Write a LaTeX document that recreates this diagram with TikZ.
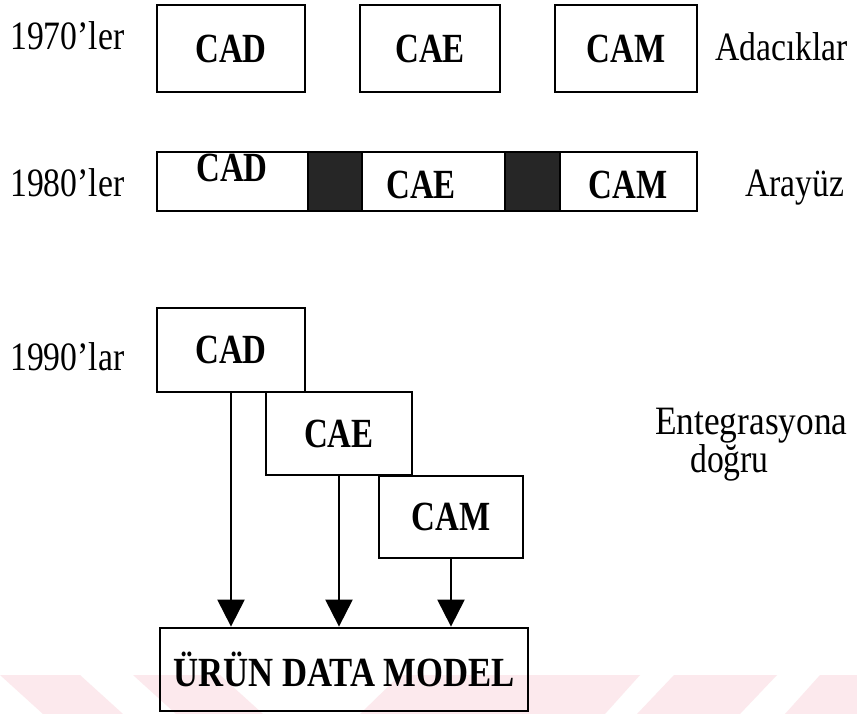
\documentclass[tikz,border=0pt]{standalone}
\usepackage{fontspec}
\usepackage{graphicx}
\setmainfont{Liberation Serif}
\usetikzlibrary{arrows.meta}
\definecolor{wmpink}{RGB}{252,233,237}
\definecolor{linkgray}{RGB}{38,38,38}
\newcommand{\vstretch}[1]{\scalebox{0.97}[1.22]{#1}}
\newcommand{\lstretch}[1]{\scalebox{1.02}[1.22]{#1}}
\begin{document}
\begin{tikzpicture}[x=1bp,y=-1bp,
  lbl/.style={inner sep=0pt, anchor=base west, font=\fontsize{33bp}{38bp}\selectfont},
  btxt/.style={inner sep=0pt, font=\fontsize{34bp}{40bp}\selectfont\bfseries},
  box/.style={draw, line width=2.8bp, inner sep=0pt, font=\fontsize{34bp}{40bp}\selectfont\bfseries},
  seg/.style={draw, line width=2.8bp, inner sep=0pt, minimum height=59bp},
  linkseg/.style={seg, fill=linkgray},
  arr/.style={line width=2.2bp, -{Triangle[width=27bp,length=27bp]}}]
\useasboundingbox (0,0) rectangle (857,714);
\fill[white] (0,0) rectangle (857,714);
% watermark band
\fill[wmpink] (0,675) -- (80,675) -- (123,714) -- (43,714) -- cycle;
\fill[wmpink] (133,675) -- (220,675) -- (263,714) -- (176,714) -- cycle;
\fill[wmpink] (400,675) -- (640,675) -- (605,714) -- (360,714) -- cycle;
\fill[wmpink] (674,675) -- (777,675) -- (740,714) -- (637,714) -- cycle;
\fill[wmpink] (820,675) -- (857,675) -- (857,714) -- (785,714) -- cycle;

% 1970s
\node[lbl] (l70) at (10,50) {\lstretch{1970'ler}};
\node[box, minimum width=148bp, minimum height=87bp] (cad1) at (231,48.5) {\vstretch{CAD}};
\node[box, minimum width=140bp, minimum height=87bp] (cae1) at (430,48.5) {\vstretch{CAE}};
\node[box, minimum width=142bp, minimum height=87bp] (cam1) at (626,48.5) {\vstretch{CAM}};
\node[lbl] (ada) at (715,61) {\lstretch{Adacıklar}};

% 1980s
\node[lbl] (l80) at (10,196) {\lstretch{1980'ler}};
\node[seg, minimum width=151bp] (cad2) at (232.5,181.5) {};
\node[linkseg, minimum width=54bp] (lk1) at (335,181.5) {};
\node[seg, minimum width=143bp] (cae2) at (433.5,181.5) {};
\node[linkseg, minimum width=55bp] (lk2) at (532.5,181.5) {};
\node[seg, minimum width=137bp] (cam2) at (628.5,181.5) {};
\node[btxt] (cad2t) at (232,168) {\vstretch{CAD}};
\node[btxt] (cae2t) at (421,185) {\vstretch{CAE}};
\node[btxt] (cam2t) at (628,185) {\vstretch{CAM}};
\node[lbl] (ara) at (745,196) {\lstretch{Arayüz}};

% 1990s
\node[lbl] (l90) at (10,370) {\lstretch{1990'lar}};
\node[box, minimum width=148bp, minimum height=84bp] (cad3) at (231,350) {\vstretch{CAD}};
\node[box, minimum width=146bp, minimum height=83bp] (cae3) at (339,433.5) {\vstretch{CAE}};
\node[box, minimum width=144bp, minimum height=82bp] (cam3) at (451,517) {\vstretch{CAM}};
\node[lbl] (ent) at (655,434) {\scalebox{1.07}[1.22]{Entegrasyona}};
\node[lbl] (dog) at (690,472) {\lstretch{doğru}};

\node[box, minimum width=368bp, minimum height=83bp] (urun) at (344,669.5) {\scalebox{1.02}[1.22]{ÜRÜN DATA MODEL}};

\draw[arr] (cad3.south) -- (cad3.south |- urun.north);
\draw[arr] (cae3.south) -- (cae3.south |- urun.north);
\draw[arr] (cam3.south) -- (cam3.south |- urun.north);
\end{tikzpicture}
\end{document}
